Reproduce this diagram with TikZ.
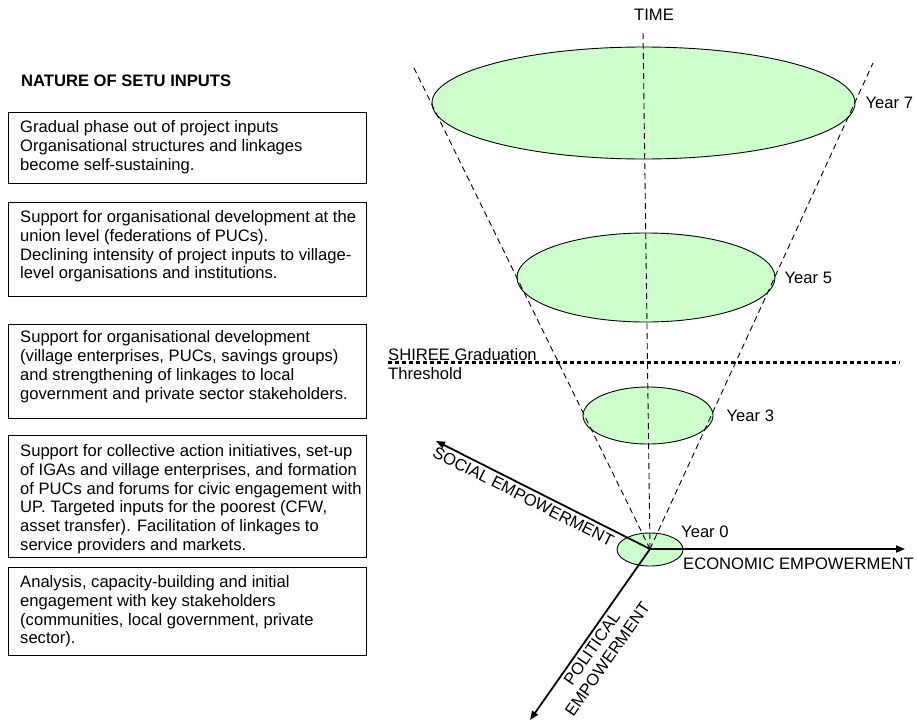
\documentclass[tikz,border=0pt]{standalone}
\usepackage{fontspec}
\setmainfont{Liberation Sans}
\usetikzlibrary{arrows.meta}
\usetikzlibrary{positioning}
\usetikzlibrary{shapes.geometric}

\definecolor{stagegreen}{HTML}{CCFFCC}

\begin{document}
\begin{tikzpicture}[x=1pt, y=1pt,
    every node/.style={font=\fontsize{16.6}{18.9}\selectfont, inner sep=0pt},
    setubox/.style={draw, line width=1pt, minimum width=358pt, anchor=north west},
    boxtext/.style={align=left},
    stage/.style={ellipse, draw, line width=0.9pt, fill=stagegreen},
    cone/.style={line width=0.9pt, dash pattern=on 6pt off 4pt},
    threshold/.style={line width=3pt, dash pattern=on 3.5pt off 3.5pt},
    axis/.style={line width=1.8pt, -{Triangle[length=9pt, width=7pt]}}]

  \useasboundingbox (0,0) rectangle (917,-723);

  % nature of inputs
  \node[anchor=base west, font=\fontsize{16.6}{18.9}\selectfont\bfseries] (title) at (21,-86) {NATURE OF SETU INPUTS};

  \node[setubox, minimum height=71pt] (b1) at (8,-112) {};
  \node[boxtext, below right=8pt and 12pt of b1.north west] (t1)
    {Gradual phase out of project inputs\\Organisational structures and linkages\\become self-sustaining.};

  \node[setubox, minimum height=94pt] (b2) at (8,-202) {};
  \node[boxtext, below right=8pt and 12pt of b2.north west] (t2)
    {Support for organisational development at the\\union level (federations of PUCs).\\Declining intensity of project inputs to village-\\level organisations and institutions.};

  \node[setubox, minimum height=94pt] (b3) at (8,-324) {};
  \node[boxtext, below right=6.5pt and 12pt of b3.north west] (t3)
    {Support for organisational development\\(village enterprises, PUCs, savings groups)\\and strengthening of linkages to local\\government and private sector stakeholders.};

  \node[setubox, minimum height=122pt] (b4) at (8,-435) {};
  \node[boxtext, below right=9pt and 12pt of b4.north west] (t4)
    {Support for collective action initiatives, set-up\\of IGAs and village enterprises, and formation\\of PUCs and forums for civic engagement with\\UP. Targeted inputs for the poorest (CFW,\\asset transfer). Facilitation of linkages to\\service providers and markets.};

  \node[setubox, minimum height=88pt] (b5) at (8,-567) {};
  \node[boxtext, below right=8pt and 12pt of b5.north west] (t5)
    {Analysis, capacity-building and initial\\engagement with key stakeholders\\(communities, local government, private\\sector).};

  % stages of the cone
  \foreach \yr/\cx/\cy/\w/\h in {7/643.5/103/423/112, 5/646/277.5/258/89, 3/648/415.5/130/57, 0/650/549.5/66/33}
    \node[stage, minimum width=\w pt, minimum height=\h pt] (y\yr) at (\cx,-\cy) {};

  \foreach \yr/\gap in {7/10pt, 5/9pt, 3/13pt}
    \node[right=\gap of y\yr.east] (l\yr) {Year \yr};
  \node[anchor=west] (l0) at (681,-532) {Year 0};

  \coordinate (O) at (650,-549);
  \coordinate (ttop) at (643,-32);
  \coordinate (cl) at (412,-64);
  \coordinate (cr) at (873,-63);

  \draw[cone] (O) -- (ttop);
  \draw[cone] (O) -- (cl);
  \draw[cone] (O) -- (cr);
  \node (time) at (654,-15) {TIME};

  % graduation threshold
  \coordinate (thl) at (388,-362);
  \coordinate (thr) at (900,-362);
  \draw[threshold] (thl) -- (thr);
  \node[align=left, anchor=north west] (shiree) at (388,-348) {SHIREE Graduation\\Threshold};

  % empowerment axes
  \coordinate (eco) at (905,-549);
  \coordinate (soc) at (436,-441);
  \coordinate (pol) at (530,-720);

  \draw[axis] (O) -- (eco);
  \draw[axis] (O) -- (soc);
  \draw[axis] (O) -- (pol);

  \node[anchor=west] (ecol) at (683,-564) {ECONOMIC EMPOWERMENT};
  \path (soc) -- (O) node[pos=0.43, sloped, below=4pt] (socl) {SOCIAL EMPOWERMENT};
  \path (pol) -- (O) node[pos=0.45, sloped, below=3.5pt, align=center] (poll) {POLITICAL\\EMPOWERMENT};
\end{tikzpicture}
\end{document}
